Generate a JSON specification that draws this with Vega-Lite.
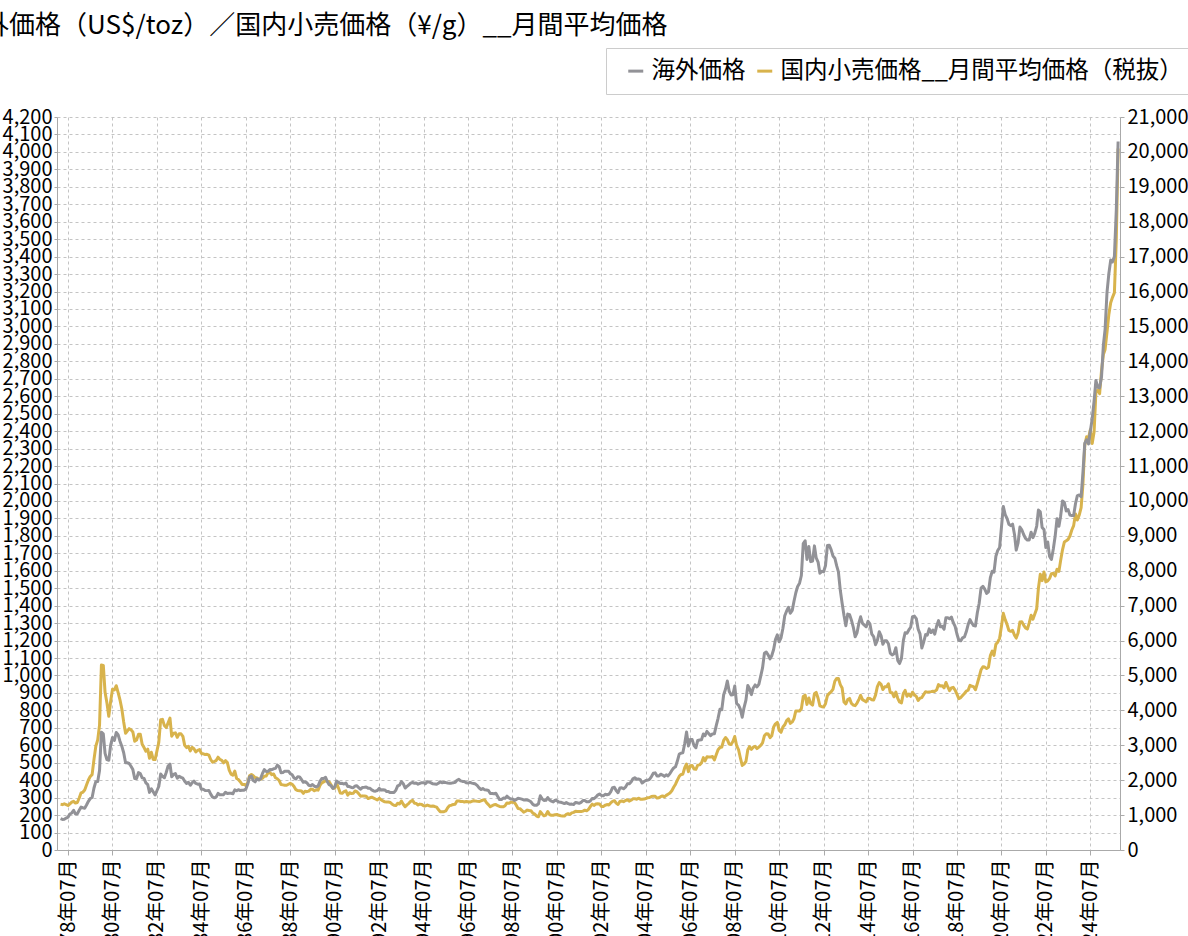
{
"$schema": "https://vega.github.io/schema/vega-lite/v6.json",
"width": 1063,
"height": 733,
"autosize": {"type": "none"},
"padding": {"left": 57, "top": 117, "right": 68, "bottom": 86},
"background": "white",
"title": {"text": "海外価格（US$/toz）／国内小売価格（¥/g）__月間平均価格", "anchor": "start", "frame": "group", "dx": -100, "offset": 9, "fontSize": 26, "fontWeight": "normal", "color": "#000000", "font": "Noto Sans CJK JP"},
"config": {
"font": "Noto Sans CJK JP",
"view": {"stroke": null},
"legend": {"orient": "none", "legendX": 549, "legendY": -69, "direction": "horizontal", "strokeColor": "#cccccc", "fillColor": "#ffffff", "padding": 11, "symbolType": "stroke", "symbolStrokeWidth": 3, "symbolSize": 225, "symbolOffset": 7, "labelFontSize": 23.5, "labelColor": "#000000", "columnPadding": -1, "labelOffset": 4, "labelLimit": 800}
},
"data": {"values": [
{"d":"1978-03-01","u":180,"j":1310},{"d":"1978-04-01","u":175.3,"j":1300},{"d":"1978-05-01","u":176.3,"j":1325},{"d":"1978-06-01","u":183.1,"j":1300},{"d":"1978-07-01","u":188.3,"j":1275},{"d":"1978-08-01","u":206.1,"j":1320},{"d":"1978-09-01","u":212.3,"j":1370},{"d":"1978-10-01","u":227.4,"j":1395},{"d":"1978-11-01","u":206.0,"j":1345},{"d":"1978-12-01","u":207.8,"j":1360},
{"d":"1979-01-01","u":227.3,"j":1490},{"d":"1979-02-01","u":245.7,"j":1638},{"d":"1979-03-01","u":242.1,"j":1653},{"d":"1979-04-01","u":239.2,"j":1719},{"d":"1979-05-01","u":257.6,"j":1864},{"d":"1979-06-01","u":279.1,"j":2006},{"d":"1979-07-01","u":294.7,"j":2106},{"d":"1979-08-01","u":301.0,"j":2160},{"d":"1979-09-01","u":355.1,"j":2596},{"d":"1979-10-01","u":391.7,"j":2972},{"d":"1979-11-01","u":392.5,"j":3154},{"d":"1979-12-01","u":455.1,"j":3576},
{"d":"1980-01-01","u":675.3,"j":5300},{"d":"1980-02-01","u":665.3,"j":5290},{"d":"1980-03-01","u":553.6,"j":4517},{"d":"1980-04-01","u":517.4,"j":4209},{"d":"1980-05-01","u":513.8,"j":3833},{"d":"1980-06-01","u":600.7,"j":4260},{"d":"1980-07-01","u":644.3,"j":4607},{"d":"1980-08-01","u":627.3,"j":4588},{"d":"1980-09-01","u":673.6,"j":4706},{"d":"1980-10-01","u":661.1,"j":4513},{"d":"1980-11-01","u":623.5,"j":4300},{"d":"1980-12-01","u":594.9,"j":4047},
{"d":"1981-01-01","u":557.4,"j":3670},{"d":"1981-02-01","u":500.1,"j":3346},{"d":"1981-03-01","u":499.8,"j":3408},{"d":"1981-04-01","u":495.8,"j":3477},{"d":"1981-05-01","u":479.7,"j":3443},{"d":"1981-06-01","u":460.8,"j":3383},{"d":"1981-07-01","u":409.3,"j":3116},{"d":"1981-08-01","u":410.2,"j":3149},{"d":"1981-09-01","u":443.2,"j":3313},{"d":"1981-10-01","u":437.8,"j":3315},{"d":"1981-11-01","u":413.4,"j":3027},{"d":"1981-12-01","u":410.1,"j":2937},
{"d":"1982-01-01","u":384.2,"j":2829},{"d":"1982-02-01","u":374.1,"j":2888},{"d":"1982-03-01","u":330.2,"j":2630},{"d":"1982-04-01","u":350.5,"j":2800},{"d":"1982-05-01","u":333.9,"j":2594},{"d":"1982-06-01","u":314.9,"j":2591},{"d":"1982-07-01","u":339.3,"j":2832},{"d":"1982-08-01","u":364.3,"j":3083},{"d":"1982-09-01","u":435.4,"j":3732},{"d":"1982-10-01","u":422.2,"j":3742},{"d":"1982-11-01","u":414.1,"j":3565},{"d":"1982-12-01","u":444.3,"j":3507},
{"d":"1983-01-01","u":481.4,"j":3641},{"d":"1983-02-01","u":491.7,"j":3781},{"d":"1983-03-01","u":419.7,"j":3261},{"d":"1983-04-01","u":432.8,"j":3348},{"d":"1983-05-01","u":437.6,"j":3356},{"d":"1983-06-01","u":412.0,"j":3229},{"d":"1983-07-01","u":422.9,"j":3327},{"d":"1983-08-01","u":416.2,"j":3328},{"d":"1983-09-01","u":411.8,"j":3254},{"d":"1983-10-01","u":393.6,"j":2998},{"d":"1983-11-01","u":381.7,"j":2934},{"d":"1983-12-01","u":388.0,"j":2969},
{"d":"1984-01-01","u":370.9,"j":2840},{"d":"1984-02-01","u":386.0,"j":2941},{"d":"1984-03-01","u":394.4,"j":2903},{"d":"1984-04-01","u":381.5,"j":2810},{"d":"1984-05-01","u":377.4,"j":2853},{"d":"1984-06-01","u":377.7,"j":2879},{"d":"1984-07-01","u":347.7,"j":2766},{"d":"1984-08-01","u":347.7,"j":2755},{"d":"1984-09-01","u":341.1,"j":2737},{"d":"1984-10-01","u":340.2,"j":2741},{"d":"1984-11-01","u":341.2,"j":2716},{"d":"1984-12-01","u":320.2,"j":2593},
{"d":"1985-01-01","u":303.0,"j":2514},{"d":"1985-02-01","u":298.9,"j":2538},{"d":"1985-03-01","u":304.0,"j":2562},{"d":"1985-04-01","u":324.5,"j":2659},{"d":"1985-05-01","u":316.6,"j":2595},{"d":"1985-06-01","u":316.2,"j":2571},{"d":"1985-07-01","u":317.1,"j":2497},{"d":"1985-08-01","u":330.7,"j":2560},{"d":"1985-09-01","u":323.7,"j":2506},{"d":"1985-10-01","u":325.6,"j":2291},{"d":"1985-11-01","u":325.3,"j":2174},{"d":"1985-12-01","u":322.4,"j":2144},
{"d":"1986-01-01","u":345.1,"j":2259},{"d":"1986-02-01","u":339.3,"j":2047},{"d":"1986-03-01","u":345.8,"j":2019},{"d":"1986-04-01","u":340.4,"j":1955},{"d":"1986-05-01","u":342.5,"j":1879},{"d":"1986-06-01","u":342.8,"j":1880},{"d":"1986-07-01","u":348.4,"j":1850},{"d":"1986-08-01","u":376.6,"j":1925},{"d":"1986-09-01","u":418.7,"j":2127},{"d":"1986-10-01","u":423.3,"j":2163},{"d":"1986-11-01","u":397.9,"j":2125},{"d":"1986-12-01","u":390.8,"j":2075},
{"d":"1987-01-01","u":408.3,"j":2062},{"d":"1987-02-01","u":401.1,"j":2026},{"d":"1987-03-01","u":408.9,"j":2025},{"d":"1987-04-01","u":438.4,"j":2056},{"d":"1987-05-01","u":460.2,"j":2111},{"d":"1987-06-01","u":449.6,"j":2121},{"d":"1987-07-01","u":450.5,"j":2213},{"d":"1987-08-01","u":461.0,"j":2219},{"d":"1987-09-01","u":460.4,"j":2157},{"d":"1987-10-01","u":465.3,"j":2179},{"d":"1987-11-01","u":467.7,"j":2070},{"d":"1987-12-01","u":486.2,"j":2041},
{"d":"1988-01-01","u":477.8,"j":1991},{"d":"1988-02-01","u":442.1,"j":1874},{"d":"1988-03-01","u":443.6,"j":1866},{"d":"1988-04-01","u":451.8,"j":1856},{"d":"1988-05-01","u":451.1,"j":1853},{"d":"1988-06-01","u":451.5,"j":1884},{"d":"1988-07-01","u":437.4,"j":1910},{"d":"1988-08-01","u":431.3,"j":1884},{"d":"1988-09-01","u":412.9,"j":1819},{"d":"1988-10-01","u":406.9,"j":1728},{"d":"1988-11-01","u":420.4,"j":1702},{"d":"1988-12-01","u":418.7,"j":1696},
{"d":"1989-01-01","u":404.0,"j":1690},{"d":"1989-02-01","u":387.8,"j":1623},{"d":"1989-03-01","u":390.2,"j":1683},{"d":"1989-04-01","u":384.3,"j":1671},{"d":"1989-05-01","u":371.0,"j":1686},{"d":"1989-06-01","u":367.6,"j":1742},{"d":"1989-07-01","u":375.0,"j":1740},{"d":"1989-08-01","u":365.4,"j":1696},{"d":"1989-09-01","u":361.8,"j":1727},{"d":"1989-10-01","u":366.9,"j":1715},{"d":"1989-11-01","u":393.9,"j":1851},{"d":"1989-12-01","u":409.2,"j":1921},
{"d":"1990-01-01","u":410.1,"j":1952},{"d":"1990-02-01","u":416.8,"j":1983},{"d":"1990-03-01","u":393.1,"j":1974},{"d":"1990-04-01","u":374.3,"j":1953},{"d":"1990-05-01","u":369.1,"j":1867},{"d":"1990-06-01","u":352.3,"j":1773},{"d":"1990-07-01","u":361.5,"j":1772},{"d":"1990-08-01","u":394.5,"j":1917},{"d":"1990-09-01","u":388.0,"j":1774},{"d":"1990-10-01","u":380.7,"j":1631},{"d":"1990-11-01","u":381.8,"j":1623},{"d":"1990-12-01","u":378.2,"j":1669},
{"d":"1991-01-01","u":383.6,"j":1693},{"d":"1991-02-01","u":363.8,"j":1572},{"d":"1991-03-01","u":363.3,"j":1640},{"d":"1991-04-01","u":358.4,"j":1619},{"d":"1991-05-01","u":356.8,"j":1623},{"d":"1991-06-01","u":366.7,"j":1691},{"d":"1991-07-01","u":367.7,"j":1671},{"d":"1991-08-01","u":356.2,"j":1609},{"d":"1991-09-01","u":348.7,"j":1542},{"d":"1991-10-01","u":358.7,"j":1551},{"d":"1991-11-01","u":359.8,"j":1544},{"d":"1991-12-01","u":361.1,"j":1538},
{"d":"1992-01-01","u":354.5,"j":1476},{"d":"1992-02-01","u":353.9,"j":1496},{"d":"1992-03-01","u":344.3,"j":1512},{"d":"1992-04-01","u":338.6,"j":1488},{"d":"1992-05-01","u":337.2,"j":1460},{"d":"1992-06-01","u":340.8,"j":1432},{"d":"1992-07-01","u":353.1,"j":1482},{"d":"1992-08-01","u":342.9,"j":1440},{"d":"1992-09-01","u":345.4,"j":1406},{"d":"1992-10-01","u":344.4,"j":1380},{"d":"1992-11-01","u":335.0,"j":1375},{"d":"1992-12-01","u":334.7,"j":1374},
{"d":"1993-01-01","u":329.0,"j":1362},{"d":"1993-02-01","u":329.3,"j":1310},{"d":"1993-03-01","u":330.1,"j":1282},{"d":"1993-04-01","u":342.2,"j":1272},{"d":"1993-05-01","u":367.2,"j":1339},{"d":"1993-06-01","u":371.4,"j":1318},{"d":"1993-07-01","u":392.0,"j":1401},{"d":"1993-08-01","u":379.8,"j":1310},{"d":"1993-09-01","u":355.2,"j":1239},{"d":"1993-10-01","u":364.2,"j":1293},{"d":"1993-11-01","u":373.8,"j":1338},{"d":"1993-12-01","u":383.3,"j":1396},
{"d":"1994-01-01","u":386.9,"j":1421},{"d":"1994-02-01","u":382.0,"j":1342},{"d":"1994-03-01","u":384.0,"j":1336},{"d":"1994-04-01","u":377.3,"j":1289},{"d":"1994-05-01","u":381.4,"j":1315},{"d":"1994-06-01","u":385.6,"j":1304},{"d":"1994-07-01","u":385.5,"j":1267},{"d":"1994-08-01","u":380.4,"j":1263},{"d":"1994-09-01","u":391.6,"j":1286},{"d":"1994-10-01","u":389.8,"j":1268},{"d":"1994-11-01","u":384.4,"j":1251},{"d":"1994-12-01","u":379.3,"j":1259},
{"d":"1995-01-01","u":378.6,"j":1245},{"d":"1995-02-01","u":376.5,"j":1226},{"d":"1995-03-01","u":382.1,"j":1158},{"d":"1995-04-01","u":391.0,"j":1096},{"d":"1995-05-01","u":385.2,"j":1093},{"d":"1995-06-01","u":387.6,"j":1099},{"d":"1995-07-01","u":386.2,"j":1120},{"d":"1995-08-01","u":383.7,"j":1212},{"d":"1995-09-01","u":383.1,"j":1272},{"d":"1995-10-01","u":383.1,"j":1284},{"d":"1995-11-01","u":385.3,"j":1304},{"d":"1995-12-01","u":387.5,"j":1311},
{"d":"1996-01-01","u":399.5,"j":1401},{"d":"1996-02-01","u":404.8,"j":1407},{"d":"1996-03-01","u":396.2,"j":1390},{"d":"1996-04-01","u":392.9,"j":1392},{"d":"1996-05-01","u":392.0,"j":1376},{"d":"1996-06-01","u":385.3,"j":1390},{"d":"1996-07-01","u":383.5,"j":1384},{"d":"1996-08-01","u":387.5,"j":1373},{"d":"1996-09-01","u":383.1,"j":1395},{"d":"1996-10-01","u":381.1,"j":1412},{"d":"1996-11-01","u":377.9,"j":1401},{"d":"1996-12-01","u":369.2,"j":1393},
{"d":"1997-01-01","u":355.0,"j":1387},{"d":"1997-02-01","u":346.6,"j":1411},{"d":"1997-03-01","u":351.8,"j":1431},{"d":"1997-04-01","u":344.5,"j":1436},{"d":"1997-05-01","u":343.8,"j":1355},{"d":"1997-06-01","u":340.8,"j":1300},{"d":"1997-07-01","u":324.1,"j":1238},{"d":"1997-08-01","u":323.9,"j":1269},{"d":"1997-09-01","u":322.8,"j":1296},{"d":"1997-10-01","u":324.9,"j":1304},{"d":"1997-11-01","u":306.0,"j":1270},{"d":"1997-12-01","u":288.7,"j":1247},
{"d":"1998-01-01","u":289.3,"j":1240},{"d":"1998-02-01","u":297.5,"j":1236},{"d":"1998-03-01","u":295.9,"j":1267},{"d":"1998-04-01","u":308.4,"j":1349},{"d":"1998-05-01","u":299.1,"j":1338},{"d":"1998-06-01","u":292.3,"j":1365},{"d":"1998-07-01","u":292.9,"j":1368},{"d":"1998-08-01","u":284.1,"j":1364},{"d":"1998-09-01","u":289.0,"j":1285},{"d":"1998-10-01","u":295.9,"j":1191},{"d":"1998-11-01","u":294.3,"j":1185},{"d":"1998-12-01","u":291.6,"j":1137},
{"d":"1999-01-01","u":287.1,"j":1083},{"d":"1999-02-01","u":287.3,"j":1111},{"d":"1999-03-01","u":286.0,"j":1143},{"d":"1999-04-01","u":282.6,"j":1130},{"d":"1999-05-01","u":276.4,"j":1124},{"d":"1999-06-01","u":261.3,"j":1056},{"d":"1999-07-01","u":256.2,"j":1028},{"d":"1999-08-01","u":256.7,"j":973},{"d":"1999-09-01","u":264.7,"j":951},{"d":"1999-10-01","u":310.7,"j":1099},{"d":"1999-11-01","u":293.2,"j":1030},{"d":"1999-12-01","u":283.7,"j":979},
{"d":"2000-01-01","u":284.6,"j":1001},{"d":"2000-02-01","u":300.9,"j":1104},{"d":"2000-03-01","u":286.4,"j":1016},{"d":"2000-04-01","u":280.0,"j":994},{"d":"2000-05-01","u":275.3,"j":996},{"d":"2000-06-01","u":285.6,"j":1013},{"d":"2000-07-01","u":282.0,"j":1019},{"d":"2000-08-01","u":274.5,"j":993},{"d":"2000-09-01","u":273.7,"j":982},{"d":"2000-10-01","u":270.0,"j":977},{"d":"2000-11-01","u":266.0,"j":972},{"d":"2000-12-01","u":271.5,"j":1018},
{"d":"2001-01-01","u":265.5,"j":1039},{"d":"2001-02-01","u":261.9,"j":1017},{"d":"2001-03-01","u":263.0,"j":1063},{"d":"2001-04-01","u":260.5,"j":1079},{"d":"2001-05-01","u":272.4,"j":1108},{"d":"2001-06-01","u":270.2,"j":1100},{"d":"2001-07-01","u":267.5,"j":1106},{"d":"2001-08-01","u":272.4,"j":1100},{"d":"2001-09-01","u":283.4,"j":1115},{"d":"2001-10-01","u":283.1,"j":1141},{"d":"2001-11-01","u":276.2,"j":1123},{"d":"2001-12-01","u":275.9,"j":1166},
{"d":"2002-01-01","u":281.7,"j":1245},{"d":"2002-02-01","u":295.5,"j":1313},{"d":"2002-03-01","u":294.0,"j":1278},{"d":"2002-04-01","u":302.7,"j":1315},{"d":"2002-05-01","u":314.5,"j":1324},{"d":"2002-06-01","u":321.2,"j":1320},{"d":"2002-07-01","u":313.3,"j":1249},{"d":"2002-08-01","u":310.3,"j":1247},{"d":"2002-09-01","u":319.2,"j":1282},{"d":"2002-10-01","u":316.6,"j":1302},{"d":"2002-11-01","u":319.2,"j":1292},{"d":"2002-12-01","u":333.4,"j":1348},
{"d":"2003-01-01","u":356.9,"j":1394},{"d":"2003-02-01","u":359.0,"j":1413},{"d":"2003-03-01","u":340.6,"j":1343},{"d":"2003-04-01","u":328.2,"j":1306},{"d":"2003-05-01","u":355.7,"j":1389},{"d":"2003-06-01","u":356.4,"j":1404},{"d":"2003-07-01","u":351.0,"j":1383},{"d":"2003-08-01","u":359.8,"j":1417},{"d":"2003-09-01","u":378.9,"j":1441},{"d":"2003-10-01","u":378.9,"j":1400},{"d":"2003-11-01","u":389.9,"j":1426},{"d":"2003-12-01","u":407.6,"j":1465},
{"d":"2004-01-01","u":414.0,"j":1471},{"d":"2004-02-01","u":405.3,"j":1454},{"d":"2004-03-01","u":406.7,"j":1485},{"d":"2004-04-01","u":403.0,"j":1456},{"d":"2004-05-01","u":383.8,"j":1452},{"d":"2004-06-01","u":392.4,"j":1458},{"d":"2004-07-01","u":398.1,"j":1475},{"d":"2004-08-01","u":400.5,"j":1499},{"d":"2004-09-01","u":405.3,"j":1503},{"d":"2004-10-01","u":420.5,"j":1534},{"d":"2004-11-01","u":439.4,"j":1543},{"d":"2004-12-01","u":442.1,"j":1538},
{"d":"2005-01-01","u":424.0,"j":1488},{"d":"2005-02-01","u":423.4,"j":1499},{"d":"2005-03-01","u":434.2,"j":1526},{"d":"2005-04-01","u":429.2,"j":1550},{"d":"2005-05-01","u":421.9,"j":1521},{"d":"2005-06-01","u":430.7,"j":1565},{"d":"2005-07-01","u":424.5,"j":1599},{"d":"2005-08-01","u":437.9,"j":1633},{"d":"2005-09-01","u":456.0,"j":1697},{"d":"2005-10-01","u":469.9,"j":1797},{"d":"2005-11-01","u":476.7,"j":1884},{"d":"2005-12-01","u":509.8,"j":2000},
{"d":"2006-01-01","u":549.9,"j":2111},{"d":"2006-02-01","u":555.0,"j":2166},{"d":"2006-03-01","u":557.1,"j":2173},{"d":"2006-04-01","u":610.6,"j":2357},{"d":"2006-05-01","u":676.5,"j":2464},{"d":"2006-06-01","u":596.2,"j":2245},{"d":"2006-07-01","u":633.8,"j":2414},{"d":"2006-08-01","u":632.6,"j":2419},{"d":"2006-09-01","u":598.2,"j":2320},{"d":"2006-10-01","u":585.8,"j":2311},{"d":"2006-11-01","u":627.8,"j":2432},{"d":"2006-12-01","u":629.8,"j":2439},
{"d":"2007-01-01","u":631.2,"j":2495},{"d":"2007-02-01","u":664.8,"j":2646},{"d":"2007-03-01","u":654.9,"j":2554},{"d":"2007-04-01","u":679.4,"j":2669},{"d":"2007-05-01","u":666.9,"j":2664},{"d":"2007-06-01","u":655.5,"j":2662},{"d":"2007-07-01","u":665.3,"j":2680},{"d":"2007-08-01","u":665.4,"j":2582},{"d":"2007-09-01","u":712.7,"j":2728},{"d":"2007-10-01","u":754.6,"j":2874},{"d":"2007-11-01","u":806.3,"j":2937},{"d":"2007-12-01","u":803.2,"j":2952},
{"d":"2008-01-01","u":889.6,"j":3139},{"d":"2008-02-01","u":922.3,"j":3223},{"d":"2008-03-01","u":968.4,"j":3163},{"d":"2008-04-01","u":909.7,"j":3033},{"d":"2008-05-01","u":888.7,"j":3021},{"d":"2008-06-01","u":889.5,"j":3110},{"d":"2008-07-01","u":939.8,"j":3253},{"d":"2008-08-01","u":839.0,"j":2990},{"d":"2008-09-01","u":829.9,"j":2878},{"d":"2008-10-01","u":806.6,"j":2643},{"d":"2008-11-01","u":760.9,"j":2423},{"d":"2008-12-01","u":816.1,"j":2464},
{"d":"2009-01-01","u":858.7,"j":2535},{"d":"2009-02-01","u":943.2,"j":2870},{"d":"2009-03-01","u":924.3,"j":2962},{"d":"2009-04-01","u":890.2,"j":2883},{"d":"2009-05-01","u":928.6,"j":2946},{"d":"2009-06-01","u":945.7,"j":2969},{"d":"2009-07-01","u":934.2,"j":2903},{"d":"2009-08-01","u":949.4,"j":2950},{"d":"2009-09-01","u":996.6,"j":2998},{"d":"2009-10-01","u":1043.2,"j":3068},{"d":"2009-11-01","u":1127.0,"j":3275},{"d":"2009-12-01","u":1134.7,"j":3333},
{"d":"2010-01-01","u":1117.9,"j":3321},{"d":"2010-02-01","u":1095.4,"j":3220},{"d":"2010-03-01","u":1113.3,"j":3271},{"d":"2010-04-01","u":1148.7,"j":3521},{"d":"2010-05-01","u":1205.4,"j":3615},{"d":"2010-06-01","u":1232.9,"j":3657},{"d":"2010-07-01","u":1193.0,"j":3425},{"d":"2010-08-01","u":1215.8,"j":3372},{"d":"2010-09-01","u":1271.0,"j":3523},{"d":"2010-10-01","u":1342.0,"j":3588},{"d":"2010-11-01","u":1369.9,"j":3706},{"d":"2010-12-01","u":1390.6,"j":3761},
{"d":"2011-01-01","u":1356.4,"j":3626},{"d":"2011-02-01","u":1372.7,"j":3669},{"d":"2011-03-01","u":1424.0,"j":3758},{"d":"2011-04-01","u":1473.8,"j":3983},{"d":"2011-05-01","u":1510.4,"j":3983},{"d":"2011-06-01","u":1528.7,"j":3982},{"d":"2011-07-01","u":1572.8,"j":4045},{"d":"2011-08-01","u":1755.8,"j":4397},{"d":"2011-09-01","u":1771.9,"j":4436},{"d":"2011-10-01","u":1665.2,"j":4172},{"d":"2011-11-01","u":1739.0,"j":4355},{"d":"2011-12-01","u":1652.3,"j":4193},
{"d":"2012-01-01","u":1656.1,"j":4150},{"d":"2012-02-01","u":1742.6,"j":4476},{"d":"2012-03-01","u":1673.8,"j":4516},{"d":"2012-04-01","u":1650.1,"j":4347},{"d":"2012-05-01","u":1585.5,"j":4128},{"d":"2012-06-01","u":1596.7,"j":4105},{"d":"2012-07-01","u":1594.3,"j":4099},{"d":"2012-08-01","u":1630.3,"j":4191},{"d":"2012-09-01","u":1744.5,"j":4425},{"d":"2012-10-01","u":1746.6,"j":4486},{"d":"2012-11-01","u":1721.6,"j":4533},{"d":"2012-12-01","u":1684.8,"j":4600},
{"d":"2013-01-01","u":1671.9,"j":4834},{"d":"2013-02-01","u":1627.6,"j":4916},{"d":"2013-03-01","u":1593.1,"j":4916},{"d":"2013-04-01","u":1487.9,"j":4738},{"d":"2013-05-01","u":1414.0,"j":4641},{"d":"2013-06-01","u":1343.4,"j":4240},{"d":"2013-07-01","u":1285.5,"j":4183},{"d":"2013-08-01","u":1351.7,"j":4309},{"d":"2013-09-01","u":1348.6,"j":4342},{"d":"2013-10-01","u":1316.6,"j":4198},{"d":"2013-11-01","u":1275.9,"j":4152},{"d":"2013-12-01","u":1221.5,"j":4134},
{"d":"2014-01-01","u":1244.3,"j":4210},{"d":"2014-02-01","u":1301.0,"j":4316},{"d":"2014-03-01","u":1336.1,"j":4431},{"d":"2014-04-01","u":1298.5,"j":4308},{"d":"2014-05-01","u":1288.7,"j":4276},{"d":"2014-06-01","u":1279.1,"j":4245},{"d":"2014-07-01","u":1310.6,"j":4348},{"d":"2014-08-01","u":1295.1,"j":4339},{"d":"2014-09-01","u":1236.6,"j":4304},{"d":"2014-10-01","u":1222.5,"j":4295},{"d":"2014-11-01","u":1176.3,"j":4437},{"d":"2014-12-01","u":1200.6,"j":4682},
{"d":"2015-01-01","u":1250.8,"j":4795},{"d":"2015-02-01","u":1227.1,"j":4745},{"d":"2015-03-01","u":1178.6,"j":4597},{"d":"2015-04-01","u":1198.9,"j":4675},{"d":"2015-05-01","u":1198.6,"j":4674},{"d":"2015-06-01","u":1181.5,"j":4760},{"d":"2015-07-01","u":1128.3,"j":4512},{"d":"2015-08-01","u":1117.9,"j":4507},{"d":"2015-09-01","u":1124.8,"j":4389},{"d":"2015-10-01","u":1159.3,"j":4523},{"d":"2015-11-01","u":1086.4,"j":4346},{"d":"2015-12-01","u":1068.3,"j":4240},
{"d":"2016-01-01","u":1097.9,"j":4215},{"d":"2016-02-01","u":1199.5,"j":4485},{"d":"2016-03-01","u":1245.1,"j":4573},{"d":"2016-04-01","u":1242.3,"j":4403},{"d":"2016-05-01","u":1260.9,"j":4469},{"d":"2016-06-01","u":1276.4,"j":4400},{"d":"2016-07-01","u":1337.3,"j":4521},{"d":"2016-08-01","u":1340.2,"j":4445},{"d":"2016-09-01","u":1326.0,"j":4398},{"d":"2016-10-01","u":1266.6,"j":4285},{"d":"2016-11-01","u":1238.4,"j":4350},{"d":"2016-12-01","u":1157.4,"j":4366},
{"d":"2017-01-01","u":1192.1,"j":4458},{"d":"2017-02-01","u":1234.2,"j":4534},{"d":"2017-03-01","u":1231.1,"j":4523},{"d":"2017-04-01","u":1266.9,"j":4530},{"d":"2017-05-01","u":1246.0,"j":4537},{"d":"2017-06-01","u":1260.3,"j":4548},{"d":"2017-07-01","u":1236.8,"j":4543},{"d":"2017-08-01","u":1283.0,"j":4587},{"d":"2017-09-01","u":1314.1,"j":4740},{"d":"2017-10-01","u":1279.5,"j":4698},{"d":"2017-11-01","u":1281.9,"j":4707},{"d":"2017-12-01","u":1264.5,"j":4644},
{"d":"2018-01-01","u":1331.3,"j":4801},{"d":"2018-02-01","u":1330.7,"j":4670},{"d":"2018-03-01","u":1324.7,"j":4564},{"d":"2018-04-01","u":1334.8,"j":4642},{"d":"2018-05-01","u":1303.5,"j":4660},{"d":"2018-06-01","u":1281.6,"j":4582},{"d":"2018-07-01","u":1237.7,"j":4467},{"d":"2018-08-01","u":1201.7,"j":4338},{"d":"2018-09-01","u":1198.4,"j":4365},{"d":"2018-10-01","u":1215.4,"j":4426},{"d":"2018-11-01","u":1220.7,"j":4485},{"d":"2018-12-01","u":1250.4,"j":4552},
{"d":"2019-01-01","u":1291.8,"j":4577},{"d":"2019-02-01","u":1320.1,"j":4719},{"d":"2019-03-01","u":1300.9,"j":4692},{"d":"2019-04-01","u":1285.9,"j":4680},{"d":"2019-05-01","u":1283.7,"j":4590},{"d":"2019-06-01","u":1359.0,"j":4769},{"d":"2019-07-01","u":1412.9,"j":4956},{"d":"2019-08-01","u":1500.4,"j":5163},{"d":"2019-09-01","u":1510.6,"j":5247},{"d":"2019-10-01","u":1494.8,"j":5240},{"d":"2019-11-01","u":1470.0,"j":5201},{"d":"2019-12-01","u":1479.1,"j":5233},
{"d":"2020-01-01","u":1560.7,"j":5569},{"d":"2020-02-01","u":1597.1,"j":5698},{"d":"2020-03-01","u":1591.9,"j":5577},{"d":"2020-04-01","u":1683.2,"j":5894},{"d":"2020-05-01","u":1715.9,"j":5953},{"d":"2020-06-01","u":1732.2,"j":6065},{"d":"2020-07-01","u":1846.5,"j":6402},{"d":"2020-08-01","u":1968.6,"j":6780},{"d":"2020-09-01","u":1921.9,"j":6600},{"d":"2020-10-01","u":1900.3,"j":6465},{"d":"2020-11-01","u":1866.3,"j":6290},{"d":"2020-12-01","u":1858.4,"j":6264},
{"d":"2021-01-01","u":1867.0,"j":6292},{"d":"2021-02-01","u":1808.2,"j":6154},{"d":"2021-03-01","u":1718.2,"j":6071},{"d":"2021-04-01","u":1760.0,"j":6218},{"d":"2021-05-01","u":1850.3,"j":6534},{"d":"2021-06-01","u":1834.6,"j":6538},{"d":"2021-07-01","u":1807.8,"j":6443},{"d":"2021-08-01","u":1785.3,"j":6364},{"d":"2021-09-01","u":1775.8,"j":6330},{"d":"2021-10-01","u":1776.7,"j":6505},{"d":"2021-11-01","u":1821.0,"j":6724},{"d":"2021-12-01","u":1790.1,"j":6611},
{"d":"2022-01-01","u":1816.0,"j":6764},{"d":"2022-02-01","u":1856.3,"j":6913},{"d":"2022-03-01","u":1947.8,"j":7502},{"d":"2022-04-01","u":1937.4,"j":7898},{"d":"2022-05-01","u":1848.5,"j":7716},{"d":"2022-06-01","u":1836.6,"j":7962},{"d":"2022-07-01","u":1732.7,"j":7682},{"d":"2022-08-01","u":1764.6,"j":7709},{"d":"2022-09-01","u":1681.3,"j":7780},{"d":"2022-10-01","u":1664.5,"j":7917},{"d":"2022-11-01","u":1725.1,"j":7926},{"d":"2022-12-01","u":1797.5,"j":7852},
{"d":"2023-01-01","u":1898.4,"j":8045},{"d":"2023-02-01","u":1854.9,"j":7982},{"d":"2023-03-01","u":1912.7,"j":8290},{"d":"2023-04-01","u":1999.8,"j":8601},{"d":"2023-05-01","u":1991.7,"j":8823},{"d":"2023-06-01","u":1942.9,"j":8857},{"d":"2023-07-01","u":1951.0,"j":8894},{"d":"2023-08-01","u":1918.7,"j":8995},{"d":"2023-09-01","u":1916.1,"j":9167},{"d":"2023-10-01","u":1916.7,"j":9293},{"d":"2023-11-01","u":1985.6,"j":9626},{"d":"2023-12-01","u":2030.8,"j":9452},
{"d":"2024-01-01","u":2033.9,"j":9597},{"d":"2024-02-01","u":2024.1,"j":9811},{"d":"2024-03-01","u":2158.5,"j":10459},{"d":"2024-04-01","u":2331.3,"j":11592},{"d":"2024-05-01","u":2350.8,"j":11840},{"d":"2024-06-01","u":2326.8,"j":11795},{"d":"2024-07-01","u":2399.0,"j":12036},{"d":"2024-08-01","u":2470.1,"j":11644},{"d":"2024-09-01","u":2571.4,"j":11972},{"d":"2024-10-01","u":2690.4,"j":13124},{"d":"2024-11-01","u":2650.8,"j":13174},{"d":"2024-12-01","u":2648.0,"j":13075},
{"d":"2025-01-01","u":2709.7,"j":13727},{"d":"2025-02-01","u":2894.7,"j":14196},{"d":"2025-03-01","u":2983.3,"j":14341},{"d":"2025-04-01","u":3193.2,"j":14833},{"d":"2025-05-01","u":3300,"j":15334},{"d":"2025-06-01","u":3380,"j":15679},{"d":"2025-07-01","u":3370,"j":15833},{"d":"2025-08-01","u":3400,"j":15967},{"d":"2025-09-01","u":3665.0,"j":17489},{"d":"2025-10-01","u":4060,"j":20100}
]},
"encoding": {
"x": {"field": "d", "type": "temporal",
"scale": {"type": "utc", "domain": [{"year": 1978, "month": 1, "date": 1, "utc": true}, {"year": 2025, "month": 11, "date": 1, "utc": true}]},
"axis": {"title": null, "format": "%Y年%m月", "labelAngle": 270, "labelFontSize": 20, "labelColor": "#000000", "labelPadding": 4, "labelOverlap": false, "labelFlush": false, "tickSize": 5, "tickColor": "#aaaaaa", "domainColor": "#aaaaaa", "grid": true, "gridColor": "#c4c4c4", "gridDash": [3, 3],
"values": [
{"year":1978,"month":7,"date":1,"utc":true},{"year":1980,"month":7,"date":1,"utc":true},{"year":1982,"month":7,"date":1,"utc":true},{"year":1984,"month":7,"date":1,"utc":true},{"year":1986,"month":7,"date":1,"utc":true},{"year":1988,"month":7,"date":1,"utc":true},{"year":1990,"month":7,"date":1,"utc":true},{"year":1992,"month":7,"date":1,"utc":true},{"year":1994,"month":7,"date":1,"utc":true},{"year":1996,"month":7,"date":1,"utc":true},{"year":1998,"month":7,"date":1,"utc":true},{"year":2000,"month":7,"date":1,"utc":true},{"year":2002,"month":7,"date":1,"utc":true},{"year":2004,"month":7,"date":1,"utc":true},{"year":2006,"month":7,"date":1,"utc":true},{"year":2008,"month":7,"date":1,"utc":true},{"year":2010,"month":7,"date":1,"utc":true},{"year":2012,"month":7,"date":1,"utc":true},{"year":2014,"month":7,"date":1,"utc":true},{"year":2016,"month":7,"date":1,"utc":true},{"year":2018,"month":7,"date":1,"utc":true},{"year":2020,"month":7,"date":1,"utc":true},{"year":2022,"month":7,"date":1,"utc":true},{"year":2024,"month":7,"date":1,"utc":true}
]}}
},
"layer": [
{"mark": {"type": "line", "strokeWidth": 3, "strokeJoin": "round"},
"encoding": {
"y": {"field": "j", "type": "quantitative", "scale": {"domain": [0, 21000], "nice": false},
"axis": {"orient": "right", "title": null, "format": ",.0f", "values": [0,1000,2000,3000,4000,5000,6000,7000,8000,9000,10000,11000,12000,13000,14000,15000,16000,17000,18000,19000,20000,21000], "labelFontSize": 20, "labelColor": "#000000", "labelPadding": 3, "labelOverlap": false, "labelFlush": false, "tickSize": 4, "tickColor": "#aaaaaa", "domainColor": "#aaaaaa", "grid": false}},
"color": {"datum": "国内小売価格__月間平均価格（税抜）", "type": "nominal", "scale": {"domain": ["海外価格", "国内小売価格__月間平均価格（税抜）"], "range": ["#929297", "#d8b34c"]}}
}},
{"mark": {"type": "line", "strokeWidth": 3, "strokeJoin": "round"},
"encoding": {
"y": {"field": "u", "type": "quantitative", "scale": {"domain": [0, 4200], "nice": false},
"axis": {"orient": "left", "title": null, "format": ",.0f", "values": [0,100,200,300,400,500,600,700,800,900,1000,1100,1200,1300,1400,1500,1600,1700,1800,1900,2000,2100,2200,2300,2400,2500,2600,2700,2800,2900,3000,3100,3200,3300,3400,3500,3600,3700,3800,3900,4000,4100,4200], "labelFontSize": 20, "labelColor": "#000000", "labelPadding": 2, "labelOverlap": false, "labelFlush": false, "tickSize": 3, "tickColor": "#aaaaaa", "domainColor": "#aaaaaa", "grid": true, "gridColor": "#c4c4c4", "gridDash": [3, 3]}},
"color": {"datum": "海外価格", "type": "nominal", "scale": {"domain": ["海外価格", "国内小売価格__月間平均価格（税抜）"], "range": ["#929297", "#d8b34c"]}}
}}
],
"resolve": {"scale": {"y": "independent"}}
}
